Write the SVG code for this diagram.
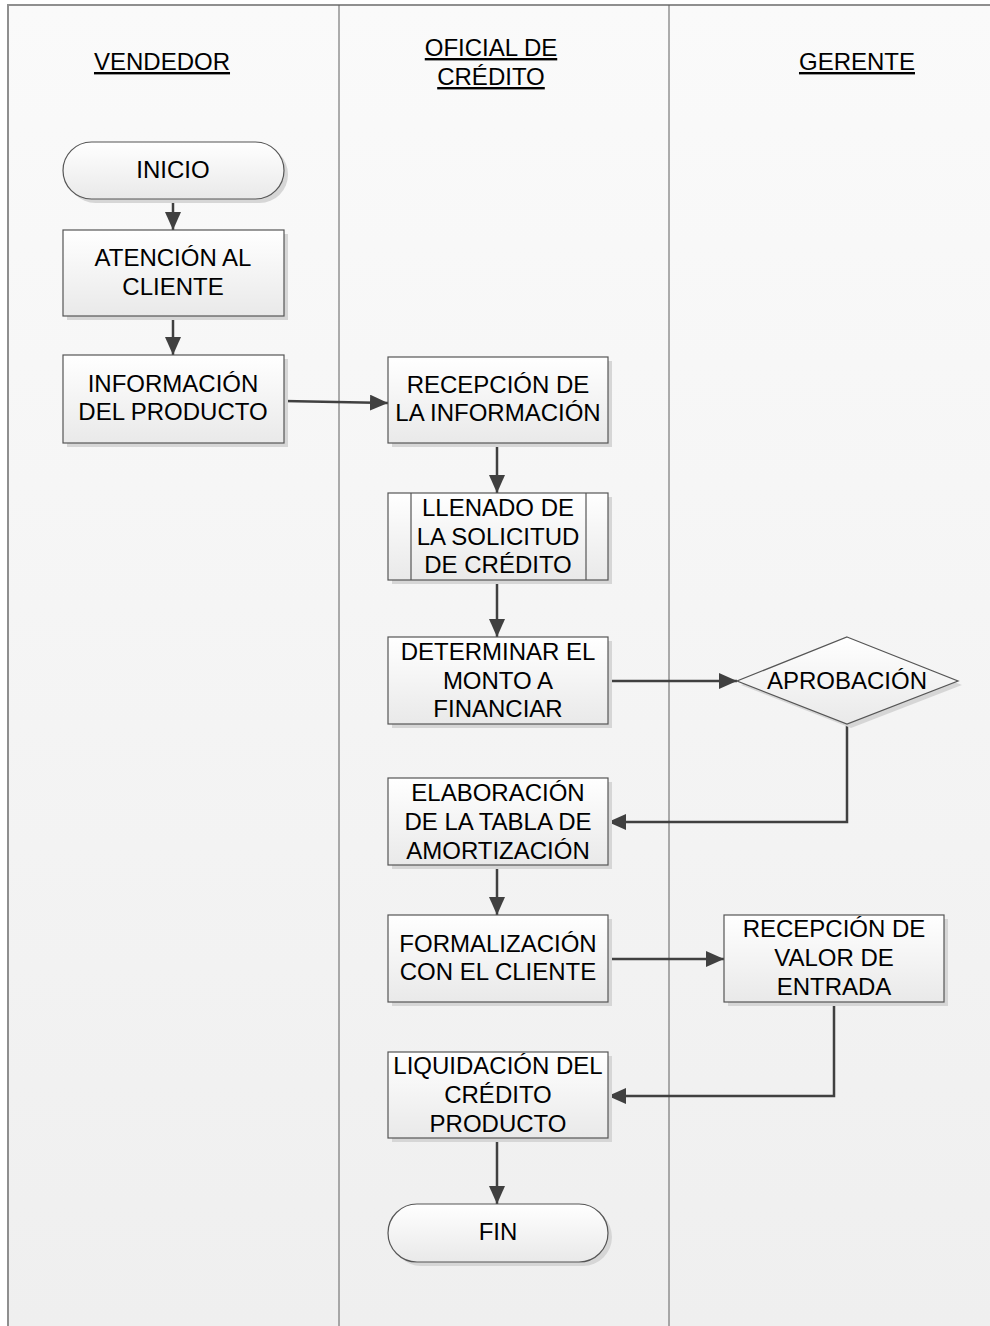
<svg xmlns="http://www.w3.org/2000/svg" width="990" height="1326" viewBox="0 0 990 1326">
<defs>
<linearGradient id="lane" x1="0" y1="0" x2="0" y2="1">
<stop offset="0" stop-color="#fafafa"/><stop offset="1" stop-color="#efefef"/>
</linearGradient>
<linearGradient id="node" x1="0" y1="0" x2="0" y2="1">
<stop offset="0" stop-color="#ffffff"/><stop offset="1" stop-color="#e9e9e9"/>
</linearGradient>
<marker id="arr" markerUnits="userSpaceOnUse" markerWidth="20" markerHeight="18" refX="18" refY="8" orient="auto">
<path d="M0,0 L18,8 L0,16 Z" fill="#404040"/>
</marker>
<style>
.shape{fill:url(#node);stroke:#555;stroke-width:1.2}
.shadow{fill:#d6d6d6}
.t{font-family:"Liberation Sans",Arial,sans-serif;font-size:24px;fill:#000;text-anchor:middle}
.h{font-family:"Liberation Sans",Arial,sans-serif;font-size:24px;fill:#000;text-anchor:middle;text-decoration:underline}
.c{fill:none;stroke:#404040;stroke-width:2.5;marker-end:url(#arr)}
</style>
</defs>
<g id="background">
<rect x="0" y="0" width="990" height="1326" fill="#ffffff"/>
<rect x="8" y="5" width="982" height="1321" fill="url(#lane)"/>
<line x1="7" y1="5" x2="990" y2="5" stroke="#8f8f8f" stroke-width="2"/>
<line x1="8" y1="5" x2="8" y2="1326" stroke="#8f8f8f" stroke-width="2"/>
<line x1="339" y1="5" x2="339" y2="1326" stroke="#5f5f5f" stroke-width="1"/>
<line x1="669" y1="5" x2="669" y2="1326" stroke="#5f5f5f" stroke-width="1"/>
</g>
<g id="lane-vendedor"><text class="h" x="162" y="70">VENDEDOR</text></g>
<g id="lane-oficial"><text class="h" x="491" y="56">OFICIAL DE</text><text class="h" x="491" y="85">CRÉDITO</text></g>
<g id="lane-gerente"><text class="h" x="857" y="70">GERENTE</text></g>

<g id="connectors">
<line class="c" x1="173" y1="199" x2="173" y2="230"/>
<line class="c" x1="173" y1="316" x2="173" y2="355"/>
<line class="c" x1="284" y1="401" x2="388" y2="403"/>
<line class="c" x1="497" y1="443" x2="497" y2="493"/>
<line class="c" x1="497" y1="580" x2="497" y2="637"/>
<line class="c" x1="608" y1="681" x2="737" y2="681"/>
<polyline class="c" points="847,724 847,822 608,822"/>
<line class="c" x1="497" y1="865" x2="497" y2="915"/>
<line class="c" x1="608" y1="959" x2="724" y2="959"/>
<polyline class="c" points="834,1002 834,1096 608,1096"/>
<line class="c" x1="497" y1="1138" x2="497" y2="1204"/>
</g>

<g id="inicio">
<rect class="shadow" x="67" y="146" width="221" height="57" rx="28.5"/>
<rect class="shape" x="63" y="142" width="221" height="57" rx="28.5"/>
<text class="t" x="173" y="178">INICIO</text>
</g>
<g id="atencion">
<rect class="shadow" x="67" y="234" width="221" height="86"/>
<rect class="shape" x="63" y="230" width="221" height="86"/>
<text class="t" x="173" y="266">ATENCIÓN AL</text>
<text class="t" x="173" y="295">CLIENTE</text>
</g>
<g id="informacion">
<rect class="shadow" x="67" y="359" width="221" height="88"/>
<rect class="shape" x="63" y="355" width="221" height="88"/>
<text class="t" x="173" y="392">INFORMACIÓN</text>
<text class="t" x="173" y="420">DEL PRODUCTO</text>
</g>
<g id="recepcion-info">
<rect class="shadow" x="392" y="361" width="220" height="86"/>
<rect class="shape" x="388" y="357" width="220" height="86"/>
<text class="t" x="498" y="393">RECEPCIÓN DE</text>
<text class="t" x="498" y="421">LA INFORMACIÓN</text>
</g>
<g id="llenado">
<rect class="shadow" x="392" y="497" width="220" height="87"/>
<rect class="shape" x="388" y="493" width="220" height="87"/>
<line x1="411" y1="493" x2="411" y2="580" stroke="#555" stroke-width="1.2"/>
<line x1="586" y1="493" x2="586" y2="580" stroke="#555" stroke-width="1.2"/>
<text class="t" x="498" y="516">LLENADO DE</text>
<text class="t" x="498" y="545">LA SOLICITUD</text>
<text class="t" x="498" y="573">DE CRÉDITO</text>
</g>
<g id="determinar">
<rect class="shadow" x="392" y="641" width="220" height="87"/>
<rect class="shape" x="388" y="637" width="220" height="87"/>
<text class="t" x="498" y="660">DETERMINAR EL</text>
<text class="t" x="498" y="689">MONTO A</text>
<text class="t" x="498" y="717">FINANCIAR</text>
</g>
<g id="aprobacion">
<polygon class="shadow" points="851,641 962,685 851,728 741,685"/>
<polygon class="shape" points="847,637 958,681 847,724 737,681"/>
<text class="t" x="847" y="689">APROBACIÓN</text>
</g>
<g id="elaboracion">
<rect class="shadow" x="392" y="782" width="220" height="87"/>
<rect class="shape" x="388" y="778" width="220" height="87"/>
<text class="t" x="498" y="801">ELABORACIÓN</text>
<text class="t" x="498" y="830">DE LA TABLA DE</text>
<text class="t" x="498" y="859">AMORTIZACIÓN</text>
</g>
<g id="formalizacion">
<rect class="shadow" x="392" y="919" width="220" height="87"/>
<rect class="shape" x="388" y="915" width="220" height="87"/>
<text class="t" x="498" y="952">FORMALIZACIÓN</text>
<text class="t" x="498" y="980">CON EL CLIENTE</text>
</g>
<g id="recepcion-valor">
<rect class="shadow" x="728" y="919" width="220" height="87"/>
<rect class="shape" x="724" y="915" width="220" height="87"/>
<text class="t" x="834" y="937">RECEPCIÓN DE</text>
<text class="t" x="834" y="966">VALOR DE</text>
<text class="t" x="834" y="995">ENTRADA</text>
</g>
<g id="liquidacion">
<rect class="shadow" x="392" y="1056" width="220" height="86"/>
<rect class="shape" x="388" y="1052" width="220" height="86"/>
<text class="t" x="498" y="1074">LIQUIDACIÓN DEL</text>
<text class="t" x="498" y="1103">CRÉDITO</text>
<text class="t" x="498" y="1132">PRODUCTO</text>
</g>
<g id="fin">
<rect class="shadow" x="392" y="1208" width="220" height="58" rx="29"/>
<rect class="shape" x="388" y="1204" width="220" height="58" rx="29"/>
<text class="t" x="498" y="1240">FIN</text>
</g>
</svg>
